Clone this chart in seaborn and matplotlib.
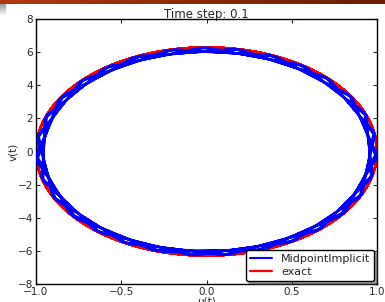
import numpy as np
import pandas as pd
import matplotlib
matplotlib.use("Agg")
import matplotlib.pyplot as plt
import seaborn as sns
from matplotlib.colors import LinearSegmentedColormap

# Problem parameters (u in [-1,1], v amplitude ~2*pi)
dt = 0.1
t_end = 10.0
omega = 2 * np.pi
u0 = 1.0
v0 = 0.0
title = "Time step: 0.1"
x_ticks = [-1.0, -0.5, 0.0, 0.5, 1.0]
y_ticks = [-8, -6, -4, -2, 0, 2, 4, 6, 8]
labels = ["MidpointImplicit", "exact"]

# implicit midpoint trajectory
n = int(round(t_end / dt))
A = np.array([[0, 1], [-omega**2, 0]])
I = np.eye(2)
M = np.linalg.solve(I - 0.5 * dt * A, I + 0.5 * dt * A)
state = np.array([u0, v0])
us, vs = [u0], [v0]
for _ in range(n):
    state = M @ state
    us.append(state[0]); vs.append(state[1])
df_mid = pd.DataFrame({"u": us, "v": vs})

te = np.linspace(0, t_end, 4000)
df_ex = pd.DataFrame({"u": u0 * np.cos(omega * te), "v": -omega * u0 * np.sin(omega * te)})

sns.set_style("ticks")
plt.rcParams["font.family"] = ["DejaVu Sans"]
fig = plt.figure(figsize=(3.85, 3.02), dpi=100)
ax = fig.add_axes([36/385, 1 - 284/302, (377-36)/385, (284-19)/302])

sns.lineplot(data=df_mid, x="u", y="v", sort=False, estimator=None, color="blue", lw=1.5, ax=ax,
             label=labels[0], zorder=3)
sns.lineplot(data=df_ex, x="u", y="v", sort=False, estimator=None, color="red", lw=1.6, ax=ax,
             label=labels[1], zorder=2)

ax.set_xlim(-1, 1)
ax.set_ylim(-8, 8)
ax.set_xticks(x_ticks)
ax.set_yticks(y_ticks)
ax.tick_params(direction="in", top=True, right=True, labelsize=7.5, length=3, pad=2)
for s in ax.spines.values():
    s.set_linewidth(1.0)
    s.set_color("black")
ax.set_xlabel("u(t)", fontsize=7.5, labelpad=0)
ax.set_ylabel("v(t)", fontsize=7.5, labelpad=0)
ax.set_title(title, fontsize=8.5, pad=1)
leg = ax.legend(loc="lower right", fontsize=8, fancybox=True, shadow=True, framealpha=1,
                borderaxespad=0.25, handlelength=2.0, labelspacing=0.3, edgecolor="black",
                borderpad=0.35)
leg.set_zorder(5)

# decorative header bar
hax = fig.add_axes([0, 1 - 4/302, 1, 4/302])
grad = np.linspace(0, 1, 256)[None, :]
cm = LinearSegmentedColormap.from_list("hdr", ["#b23a10", "#8a2a05", "#6a1e00"])
hax.imshow(grad, aspect="auto", cmap=cm)
hax.axis("off")
gax = fig.add_axes([0, 1 - 16/302, 6/385, 12/302])
gax.imshow(np.linspace(0.6, 1, 64)[:, None], aspect="auto", cmap="gray", vmin=0, vmax=1)
gax.axis("off")

fig.savefig("out.png", dpi=100)
